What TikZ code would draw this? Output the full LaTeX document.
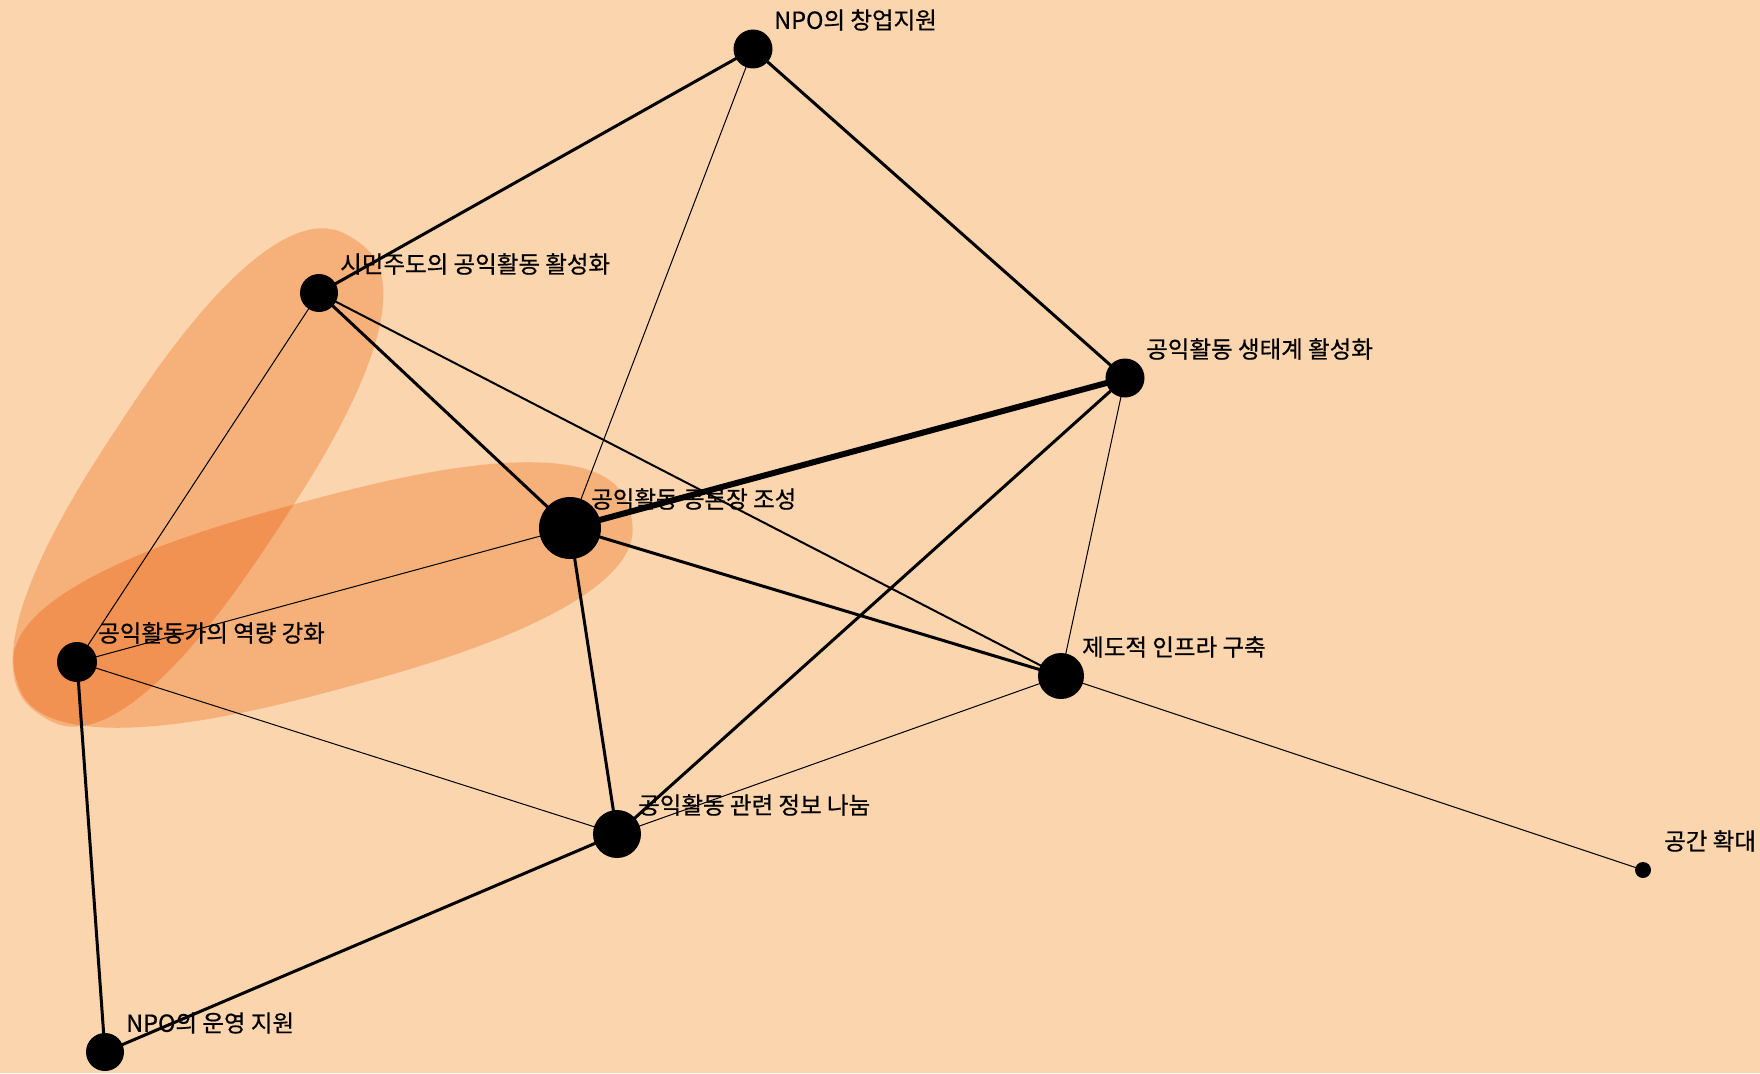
\documentclass[tikz,border=0pt]{standalone}
\usepackage{fontspec}
\newfontfamily\kr{Noto Sans CJK KR}[FakeBold=0.6]
\definecolor{bg}{RGB}{251,213,174}
\definecolor{blob}{RGB}{246,177,122}
\definecolor{blobov}{RGB}{242,146,82}
\pgfdeclarelayer{bgl}
\pgfdeclarelayer{edgel}
\pgfsetlayers{bgl,edgel,main}
\tikzset{
  nd/.style={circle, fill=black, draw=none, inner sep=0pt, minimum size=#1},
  lbl/.style={anchor=west, font=\kr\fontsize{23.5}{26}\selectfont, inner sep=0pt, text=black},
  wA/.style={line width=1pt},
  wB/.style={line width=2pt},
  wC/.style={line width=3pt},
  wD/.style={line width=6pt},
  blobA/.style={shift={(198,477.5)}, rotate=56.6},
  blobB/.style={shift={(323,595)}, rotate=15.2},
}
\newcommand\superblob[2]{%
  plot[domain=0.5:360.5, samples=181] ({#1*sign(cos(\x))*abs(cos(\x))^0.8}, {#2*sign(sin(\x))*abs(sin(\x))^0.8}) -- cycle}
\begin{document}
\begin{tikzpicture}[x=1pt, y=-1pt]
\useasboundingbox (0,0) rectangle (1760,1073);

% nodes
\node[nd=39] (cy) at (753,49) {};
\node[nd=38] (sm) at (319,293) {};
\node[nd=62] (gr) at (570,528) {};
\node[nd=40] (yr) at (77,662) {};
\node[nd=48] (jb) at (617,834) {};
\node[nd=39] (st) at (1125,378) {};
\node[nd=46] (jd) at (1061,676) {};
\node[nd=16] (gg) at (1643,870) {};
\node[nd=38] (uy) at (105,1052) {};

% labels
\node[lbl] (lcy) at ([shift={(21,-29)}]cy.center) {NPO의 창업지원};
\node[lbl] (lsm) at ([shift={(21,-29)}]sm.center) {시민주도의 공익활동 활성화};
\node[lbl] (lgr) at ([shift={(21,-29)}]gr.center) {공익활동 공론장 조성};
\node[lbl] (lyr) at ([shift={(21,-29)}]yr.center) {공익활동가의 역량 강화};
\node[lbl] (ljb) at ([shift={(21,-29)}]jb.center) {공익활동 관련 정보 나눔};
\node[lbl] (lst) at ([shift={(21,-29)}]st.center) {공익활동 생태계 활성화};
\node[lbl] (ljd) at ([shift={(21,-29)}]jd.center) {제도적 인프라 구축};
\node[lbl] (lgg) at ([shift={(21,-29)}]gg.center) {공간 확대};
\node[lbl] (luy) at ([shift={(21,-29)}]uy.center) {NPO의 운영 지원};

% background and blobs
\begin{pgfonlayer}{bgl}
\fill[bg] (0,0) rectangle (1760,1073);
\fill[blob, blobA] \superblob{285}{95};
\fill[blob, blobB] \superblob{318}{95};
\begin{scope}
  \clip[blobA] \superblob{285}{95};
  \fill[blobov, blobB] \superblob{318}{95};
\end{scope}
\end{pgfonlayer}

% edges
\begin{pgfonlayer}{edgel}
\draw[wC] (cy.center) -- (sm.center);
\draw[wA] (cy.center) -- (gr.center);
\draw[wC] (cy.center) -- (st.center);
\draw[wC] (sm.center) -- (gr.center);
\draw[wB] (sm.center) -- (jd.center);
\draw[wA] (sm.center) -- (yr.center);
\draw[wD] (st.center) -- (gr.center);
\draw[wC] (st.center) -- (jb.center);
\draw[wA] (st.center) -- (jd.center);
\draw[wA] (gr.center) -- (yr.center);
\draw[wC] (gr.center) -- (jd.center);
\draw[wC] (gr.center) -- (jb.center);
\draw[wA] (yr.center) -- (jb.center);
\draw[wC] (yr.center) -- (uy.center);
\draw[wC] (jb.center) -- (uy.center);
\draw[wA] (jb.center) -- (jd.center);
\draw[wA] (jd.center) -- (gg.center);
\end{pgfonlayer}
\end{tikzpicture}
\end{document}
